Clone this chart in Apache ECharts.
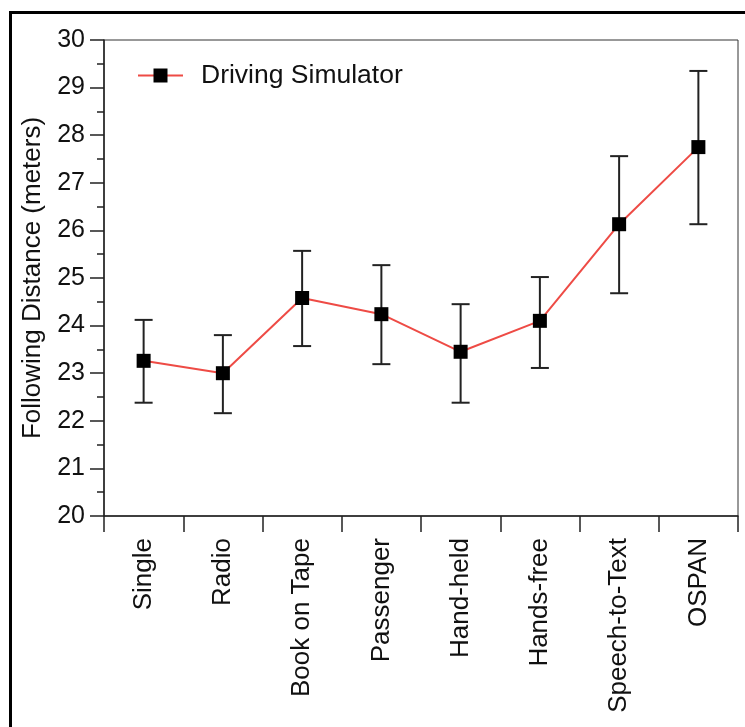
<!DOCTYPE html>
<html>
<head>
<meta charset="utf-8">
<script src="https://cdn.jsdelivr.net/npm/echarts@6/dist/echarts.min.js"></script>
<style>
html,body{margin:0;padding:0;background:#fff;}
#chart{width:745px;height:727px;}
</style>
</head>
<body>
<div id="chart"></div>
<script>
var categories = ['Single', 'Radio', 'Book on Tape', 'Passenger', 'Hand-held', 'Hands-free', 'Speech-to-Text', 'OSPAN'];
var means = [23.26, 23.00, 24.58, 24.24, 23.45, 24.10, 26.13, 27.75];
var upper = [24.12, 23.80, 25.57, 25.27, 24.45, 25.02, 27.56, 29.35];
var lower = [22.38, 22.16, 23.57, 23.19, 22.38, 23.11, 24.68, 26.13];
var seriesName = 'Driving Simulator';
var yAxisName = 'Following Distance (meters)';

var errData = categories.map(function (c, i) { return [i, lower[i], upper[i]]; });
var FONT = 'Liberation Sans, Arial, Helvetica, sans-serif';

var chart = echarts.init(document.getElementById('chart'), null, {renderer: 'canvas'});
chart.setOption({
  animation: false,
  backgroundColor: '#fff',
  textStyle: {fontFamily: FONT},
  grid: {
    left: 104, right: 7, top: 40, bottom: 211,
    show: true, borderColor: '#333', borderWidth: 1, backgroundColor: 'transparent'
  },
  legend: {
    left: 132, top: 57,
    itemWidth: 45, itemHeight: 17.5,
    data: [seriesName],
    textStyle: {fontSize: 26.5, color: '#111', fontFamily: FONT, padding: [0, 0, 0, 13]}
  },
  xAxis: {
    type: 'category',
    data: categories,
    boundaryGap: true,
    axisLine: {lineStyle: {color: '#222', width: 1.5}},
    axisTick: {show: true, length: 16, alignWithLabel: false, lineStyle: {color: '#222', width: 1.5}},
    axisLabel: {rotate: 90, margin: 22, fontSize: 26, color: '#111', fontFamily: FONT, interval: 0},
    splitLine: {show: false}
  },
  yAxis: {
    type: 'value',
    min: 20, max: 30, interval: 1,
    name: yAxisName,
    nameLocation: 'middle',
    nameGap: 54,
    nameTextStyle: {fontSize: 26, color: '#111', fontFamily: FONT},
    axisLine: {show: true, lineStyle: {color: '#222', width: 1.5}},
    axisTick: {show: true, length: 14, lineStyle: {color: '#222', width: 1.5}},
    minorTick: {show: true, splitNumber: 2, length: 7, lineStyle: {color: '#222', width: 1.5}},
    axisLabel: {margin: 19, fontSize: 25, color: '#111', fontFamily: FONT},
    splitLine: {show: false}
  },
  graphic: [{
    type: 'rect',
    left: 8, top: 10,
    shape: {x: 0, y: 0, width: 1000, height: 1000},
    style: {fill: 'none', stroke: '#000', lineWidth: 3},
    silent: true, z: 100
  }],
  series: [{
    type: 'custom',
    name: 'err',
    data: errData,
    z: 1,
    renderItem: function (params, api) {
      var x = api.value(0);
      var lo = api.coord([x, api.value(1)]);
      var hi = api.coord([x, api.value(2)]);
      var hw = 9;
      var st = {stroke: '#222', lineWidth: 2};
      return {
        type: 'group',
        children: [
          {type: 'line', shape: {x1: lo[0], y1: lo[1], x2: hi[0], y2: hi[1]}, style: st},
          {type: 'line', shape: {x1: lo[0] - hw, y1: lo[1], x2: lo[0] + hw, y2: lo[1]}, style: st},
          {type: 'line', shape: {x1: hi[0] - hw, y1: hi[1], x2: hi[0] + hw, y2: hi[1]}, style: st}
        ]
      };
    }
  }, {
    type: 'line',
    name: seriesName,
    data: means,
    z: 3,
    symbol: 'rect',
    symbolSize: 14,
    lineStyle: {color: '#ee4b45', width: 2},
    itemStyle: {color: '#000', borderWidth: 0},
    color: '#ee4b45'
  }]
});
</script>
</body>
</html>
